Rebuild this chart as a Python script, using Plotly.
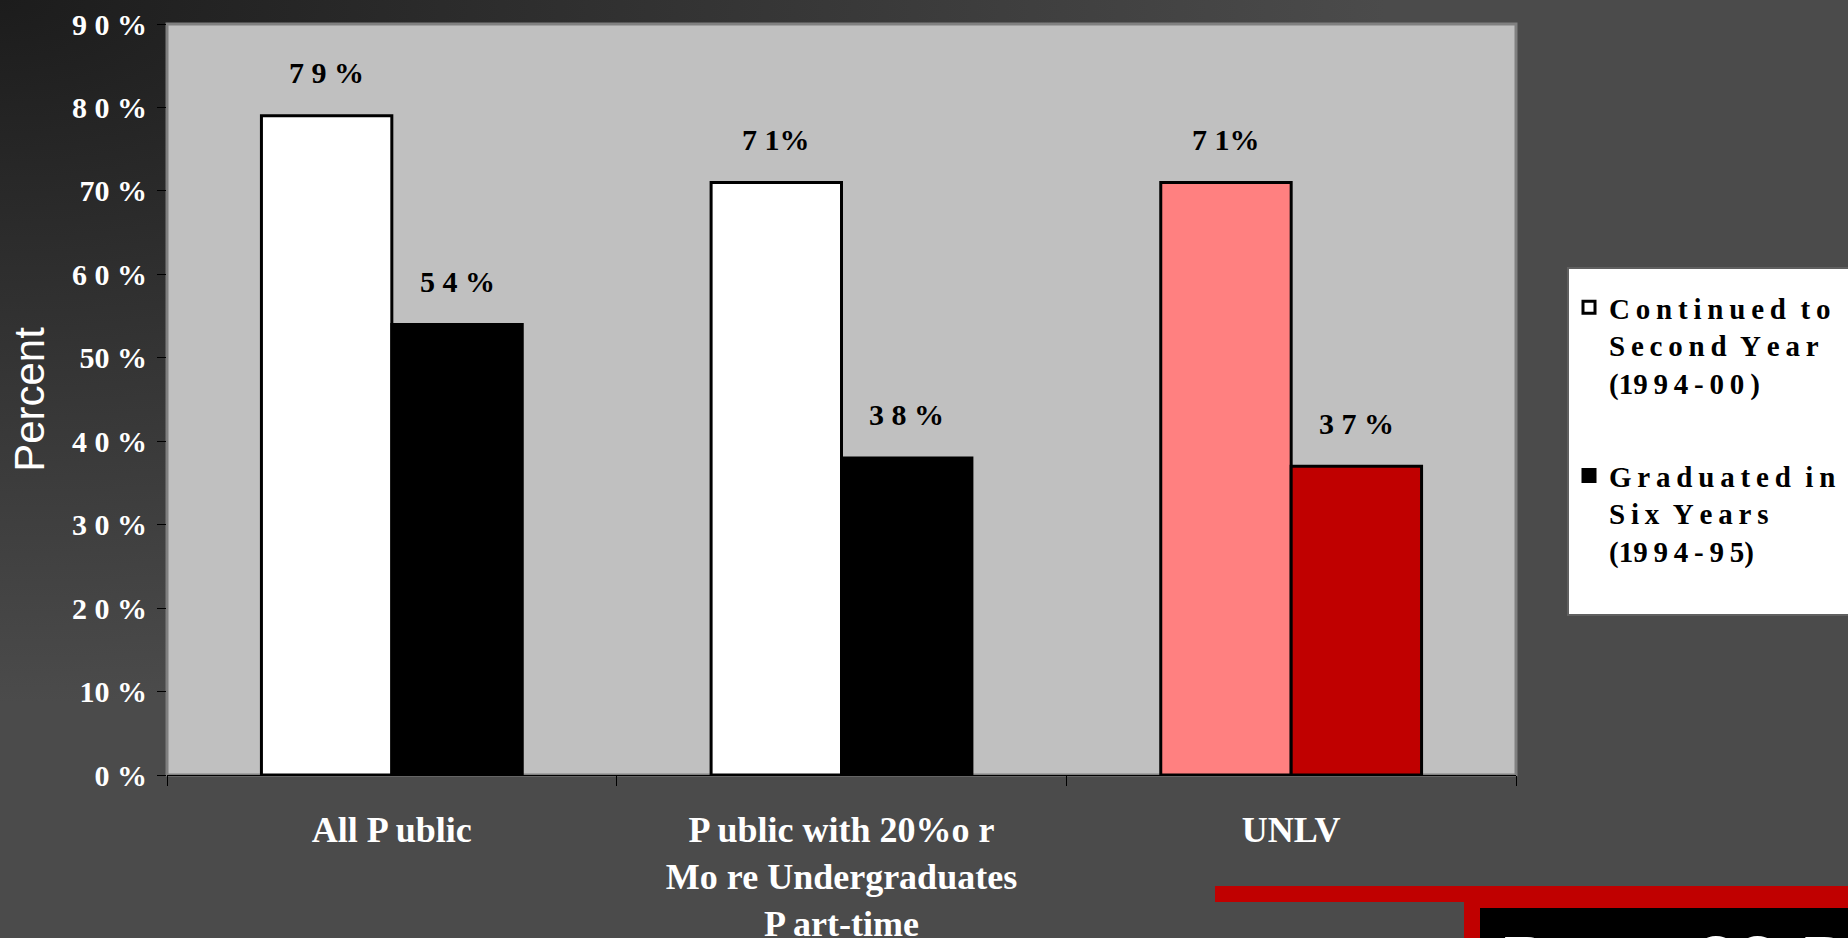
import base64
import plotly.graph_objects as go

# data
categories = ["All P ublic", "P ublic with 20%o r<br>Mo re Undergraduates<br>P art-time", "UNLV"]
continued = [79, 71, 71]
graduated = [54, 38, 37]
continued_labels = ["7 9 %", "7 1%", "7 1%"]
graduated_labels = ["5 4 %", "3 8 %", "3 7 %"]
continued_colors = ["#ffffff", "#ffffff", "#ff8080"]
graduated_colors = ["#000000", "#000000", "#c00000"]
series_names = [
    "C\u2009o\u2009n\u2009t\u2009i\u2009n\u2009u\u2009e\u2009d  t\u2009o\u00a0\u00a0\u00a0\u00a0\u00a0\u00a0"
    "<br>S\u2009e\u2009c\u2009o\u2009n\u2009d  Y\u2009e\u2009a\u2009r<br>(19\u20099\u20094\u2009-\u20090\u20090\u2009)",
    "G\u2009r\u2009a\u2009d\u2009u\u2009a\u2009t\u2009e\u2009d  i\u2009n<br>S\u2009i\u2009x  Y\u2009e\u2009a\u2009r\u2009s<br>(19\u20099\u20094\u2009-\u20099\u20095)<br> ",
]
y_ticks = [0, 10, 20, 30, 40, 50, 60, 70, 80, 90]
y_ticktext = ["0 %", "10 %", "2 0 %", "3 0 %", "4 0 %", "50 %", "6 0 %", "70 %", "8 0 %", "9 0 %"]
slide_title = "Page 23 B"

W, H = 1848, 938
L, R, T, B = 167, 332, 24, 163
PW, PH = W - L - R, H - T - B

serif = "Liberation Serif"
sans = "Liberation Sans"


def px(xp):
    return (xp - L) / PW


def py(yp):
    return (T + PH - yp) / PH


bg_svg = (
    '<svg xmlns="http://www.w3.org/2000/svg" width="1848" height="938">'
    '<defs><radialGradient id="g" cx="0" cy="0" r="0.75">'
    '<stop offset="0" stop-color="#1c1c1c"/><stop offset="1" stop-color="#4b4b4b"/>'
    '</radialGradient></defs><rect width="1848" height="938" fill="url(#g)"/></svg>'
)
bg_uri = "data:image/svg+xml;base64," + base64.b64encode(bg_svg.encode()).decode()

fig = go.Figure()
fig.add_trace(go.Bar(
    x=categories, y=continued, name=series_names[0], legendgroup="a",
    marker=dict(color=continued_colors, line=dict(color="black", width=3)),
))
fig.add_trace(go.Bar(
    x=categories, y=graduated, name=series_names[1], legendgroup="b",
    marker=dict(color=graduated_colors, line=dict(color="black", width=3)),
))

half = 0.58 * PW / len(categories) / 4
for labels, vals, dx in [(continued_labels, continued, -half), (graduated_labels, graduated, half)]:
    for c, v, t in zip(categories, vals, labels):
        fig.add_annotation(
            x=c, y=v, text=t, showarrow=False, xshift=dx, yshift=43, yanchor="middle",
            font=dict(family=serif, size=30, color="black", weight="bold"),
        )

# slide decoration, bottom right
fig.add_shape(type="rect", xref="paper", yref="paper", layer="above", line_width=0, fillcolor="#c00000",
              x0=px(1215), x1=px(W), y0=py(902), y1=py(886))
fig.add_shape(type="rect", xref="paper", yref="paper", layer="above", line_width=0, fillcolor="#c00000",
              x0=px(1464), x1=px(W), y0=py(H), y1=py(902))
fig.add_shape(type="rect", xref="paper", yref="paper", layer="above", line_width=0, fillcolor="#000000",
              x0=px(1480), x1=px(W), y0=py(H), y1=py(908))
fig.add_annotation(
    xref="paper", yref="paper", x=px(1497), y=py(962), xanchor="left", yanchor="middle",
    text=slide_title, showarrow=False, font=dict(family=sans, size=75, color="white"),
)

# plot area
fig.add_shape(type="rect", xref="paper", yref="paper", x0=0, x1=1, y0=0, y1=1, layer="below",
              fillcolor="#c0c0c0", line=dict(color="#808080", width=3))

fig.update_layout(
    width=W, height=H,
    margin=dict(l=L, r=R, t=T, b=B, autoexpand=False),
    paper_bgcolor="#4b4b4b",
    plot_bgcolor="rgba(0,0,0,0)",
    barmode="group", bargap=0.42, bargroupgap=0,
    images=[dict(source=bg_uri, xref="paper", yref="paper", x=-L / PW, y=1 + T / PH,
                 sizex=W / PW, sizey=H / PH, sizing="stretch", xanchor="left", yanchor="top", layer="below")],
    legend=dict(
        x=px(1567), y=py(267), xanchor="left", yanchor="top",
        bgcolor="white", bordercolor="#606060", borderwidth=2,
        font=dict(family=serif, size=29, color="black", weight="bold"),
        valign="top", tracegroupgap=52, itemclick=False,
        title=dict(text=" ", font=dict(size=10)),
    ),
    xaxis=dict(
        tickson="boundaries", ticks="outside", ticklen=10, tickcolor="black",
        showline=True, linecolor="black", linewidth=1, showgrid=False,
        tickfont=dict(family=serif, size=36, color="white", weight="bold"),
        ticklabelstandoff=23,
    ),
    yaxis=dict(
        range=[0, 90], tickvals=y_ticks, ticktext=y_ticktext,
        ticks="outside", ticklen=9, tickcolor="black", showgrid=False, zeroline=False,
        tickfont=dict(family=serif, size=30, color="white", weight="bold"),
        ticklabelstandoff=4,
        title=dict(text="Percent", font=dict(family=sans, size=42, color="white"), standoff=14),
    ),
)

fig.write_html(
    "out.html",
    config={"displayModeBar": False},
    post_script="document.body.style.margin='0';document.body.style.overflow='hidden';",
)
